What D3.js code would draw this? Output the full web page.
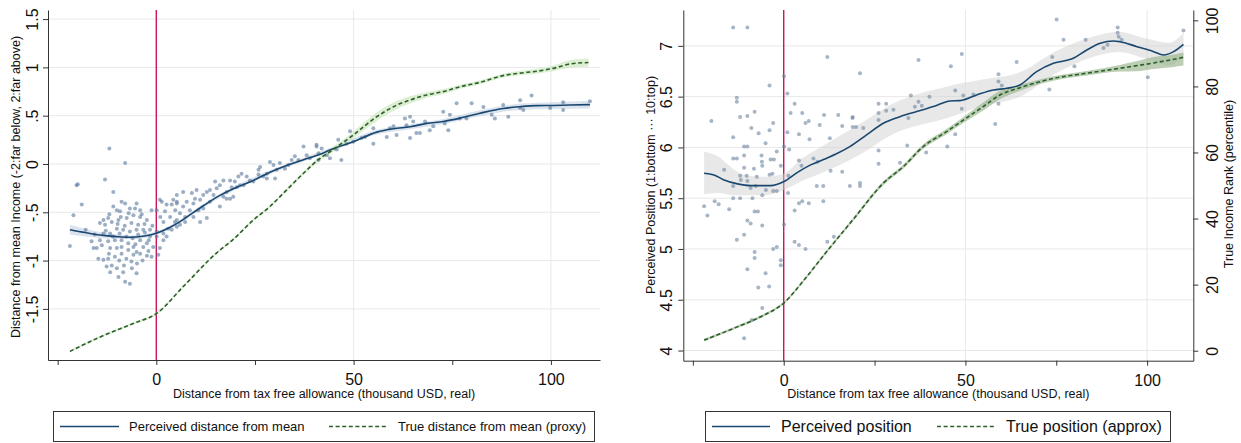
<!DOCTYPE html>
<html>
<head>
<meta charset="utf-8">
<script src="https://cdn.jsdelivr.net/npm/d3@7"></script>
<style>
body{margin:0;background:#fff}
</style>
</head>
<body>
<script>
// ---- data ----
let xTicks = [-25, 0, 25, 50, 75, 100]
let xGrid = [0, 50, 100]
let leftYTicks = [-1.5, -1, -0.5, 0, 0.5, 1, 1.5]
let rightYTicks = [4, 4.5, 5, 5.5, 6, 6.5, 7]
let rankTicks = [0, 20, 40, 60, 80, 100]

// left panel: perceived distance from mean (x, value)
let leftPerceived = [[-21.9,-0.68],[-18,-0.71],[-14.3,-0.735],[-10,-0.752],[-6.7,-0.759],[-3,-0.745],[0,-0.717],[3.5,-0.655],[6,-0.597],[7.7,-0.55],[12,-0.43],[16.1,-0.325],[20.4,-0.24],[24.6,-0.17],[28.8,-0.085],[33,-0.015],[37.3,0.045],[41.5,0.1],[44,0.145],[49.9,0.23],[55.9,0.33],[60.1,0.365],[64.3,0.385],[68.5,0.42],[72.7,0.44],[77,0.475],[82,0.525],[87.9,0.575],[92.2,0.593],[96.4,0.604],[100.6,0.606],[104.8,0.611],[109.9,0.615]]
let leftPerceivedBand = [[-21.9,-0.73,-0.63],[-18,-0.75,-0.67],[-14.3,-0.765,-0.705],[-10,-0.775,-0.73],[-6.7,-0.78,-0.74],[0,-0.735,-0.70],[6,-0.615,-0.58],[12,-0.45,-0.41],[20.4,-0.26,-0.22],[28.8,-0.105,-0.065],[37.3,0.025,0.065],[44,0.125,0.165],[55.9,0.305,0.355],[64.3,0.36,0.41],[72.7,0.415,0.465],[82,0.495,0.555],[92.2,0.56,0.625],[100.6,0.57,0.64],[109.9,0.575,0.655]]
// left panel: true distance from mean (proxy)
let leftTrue = [[-21.9,-1.94],[-14.2,-1.79],[-5.8,-1.65],[0,-1.55],[6.8,-1.27],[15.3,-0.92],[19.5,-0.78],[24.6,-0.58],[28.8,-0.44],[33,-0.27],[37.3,-0.096],[41.5,0.059],[44,0.127],[49.9,0.30],[55.9,0.49],[60.1,0.593],[64.3,0.663],[68.5,0.714],[72.7,0.749],[77,0.80],[82,0.845],[87.9,0.915],[92,0.94],[96.4,0.96],[100.6,0.99],[104.8,1.035],[109.5,1.05]]
let leftTrueBand = [[-21.9,-1.952,-1.928],[-14.2,-1.802,-1.778],[-5.8,-1.662,-1.638],[0,-1.562,-1.538],[6.8,-1.282,-1.258],[15.3,-0.932,-0.908],[19.5,-0.792,-0.768],[24.6,-0.592,-0.568],[28.8,-0.452,-0.428],[33,-0.285,-0.255],[37.3,-0.115,-0.077],[41.5,0.035,0.083],[44,0.1,0.154],[49.9,0.265,0.335],[55.9,0.445,0.535],[60.1,0.55,0.636],[64.3,0.625,0.7],[68.5,0.685,0.743],[72.7,0.725,0.773],[77,0.78,0.82],[82,0.825,0.865],[87.9,0.895,0.935],[92,0.918,0.962],[96.4,0.935,0.985],[100.6,0.96,1.02],[104.8,0.995,1.075],[109.5,1.008,1.092]]
let leftScatter = [
[-11.9,0.16],[-7.9,0.01],[-19.9,-0.21],[-13.0,-0.16],[-10.9,-0.29],[-18.9,-0.42],[-21.0,-0.53],[-17.9,-0.68],[-21.9,-0.85],[-15.9,-0.87],
[-8.8,-0.39],[-7.9,-0.41],[-5.0,-0.41],[-6.7,-0.46],[-5.4,-0.46],[-4.1,-0.48],[-10.0,-0.48],[-9.2,-0.49],[-10.9,-0.44],[-12.2,-0.56],
[-13.4,-0.58],[-14.3,-0.61],[-13.0,-0.63],[-11.3,-0.60],[-9.6,-0.58],[-7.5,-0.56],[-5.8,-0.53],[-4.1,-0.55],[-2.4,-0.58],[-1.2,-0.48],
[0.1,-0.48],[1.4,-0.39],[2.6,-0.42],[2.2,-0.49],[3.9,-0.42],[5.2,-0.39],[3.5,-0.55],[4.7,-0.60],[1.8,-0.60],[3.0,-0.67],
[1.8,-0.72],[0.1,-0.70],[-1.6,-0.68],[-3.3,-0.68],[-5.0,-0.68],[-6.7,-0.70],[-8.4,-0.68],[-10.0,-0.67],[-11.7,-0.72],[-13.4,-0.72],
[-14.3,-0.79],[-13.8,-0.84],[-12.2,-0.80],[-10.5,-0.79],[-8.8,-0.79],[-7.1,-0.82],[-5.8,-0.86],[-4.1,-0.79],[-2.4,-0.82],[-0.8,-0.86],
[0.9,-0.87],[1.8,-0.79],[0.5,-0.94],[-1.2,-0.96],[-2.4,-0.95],[-4.1,-0.93],[-5.8,-0.94],[-7.1,-0.89],[-8.8,-0.93],[-10.5,-0.96],
[-12.2,-0.98],[-13.4,-0.99],[-14.7,-0.98],[-11.3,-1.05],[-10.0,-1.08],[-8.4,-1.12],[-6.2,-1.08],[-5.0,-1.13],[-6.7,-1.24],[-7.9,-1.22],
[-9.6,-1.17],[-11.7,-1.12],[-12.6,-1.06],[-15.1,-0.87],[-11.7,-0.87],[-8.8,-0.86],[-10.0,-0.87],[-5.0,-0.91],[-3.3,-0.86],[-1.6,-0.75],
[0.1,-0.75],[2.6,-0.75],[3.9,-0.68],[5.2,-0.58],[5.2,-0.65],[-20.2,-0.22],[0.9,-0.37],
[-12.8,-0.69],[-11.0,-0.75],[-9.3,-0.72],[-7.6,-0.75],[-6.0,-0.77],[-4.6,-0.73],[-2.9,-0.71],[-1.0,-0.64],[-9.8,-0.62],[-8.0,-0.64],
[-6.3,-0.61],[-4.6,-0.63],[-3.0,-0.62],[-12.0,-0.93],[-9.4,-1.00],[-7.6,-0.98],[-6.3,-1.01],[-3.5,-1.00],[-2.0,-0.90],[-9.0,-0.55],
[-11.9,-0.52],[-3.7,-0.52],[-7.0,-0.51],[1.0,-0.55],[-15.6,-0.73],[-16.4,-0.80],[-4.9,-1.03],[-8.2,-1.05],[-1.9,-0.79],[-5.3,-0.83],
[4.3,-0.37],[5.2,-0.41],[4.8,-0.48],[6.0,-0.51],[6.8,-0.44],[7.7,-0.39],[7.3,-0.55],[8.5,-0.48],[9.4,-0.41],[9.8,-0.36],
[9.0,-0.30],[10.2,-0.27],[11.1,-0.37],[11.9,-0.32],[12.8,-0.29],[13.6,-0.27],[14.5,-0.32],[15.3,-0.25],[16.1,-0.22],[17.0,-0.17],
[14.9,-0.18],[17.8,-0.29],[18.7,-0.36],[19.1,-0.24],[19.9,-0.18],[20.8,-0.13],[21.6,-0.10],[22.1,-0.22],[22.9,-0.13],[23.7,-0.17],
[24.6,-0.18],[25.9,-0.06],[26.3,-0.03],[27.1,-0.13],[28.0,-0.10],[28.8,0.02],[29.7,-0.01],[30.5,-0.06],[31.3,0.01],[32.6,-0.05],
[33.5,-0.01],[34.3,0.04],[35.1,0.08],[36.0,0.04],[37.3,0.18],[38.1,0.09],[38.9,0.06],[40.6,0.20],[41.1,0.11],[6.0,-0.63],
[7.3,-0.60],[9.4,-0.55],[11.1,-0.60],[12.8,-0.56],[11.9,-0.46],[6.8,-0.29],[5.2,-0.32],[16.1,-0.44],[17.8,-0.36],[19.5,-0.34],
[20.4,-0.24],[28.0,-0.15],[30.1,-0.15],[25.9,-0.11],[18.7,-0.17],[21.2,-0.22],[17.0,-0.34],[13.6,-0.39],[10.7,-0.48],
[40.6,0.18],[41.9,0.16],[41.1,0.04],[43.2,0.09],[44.0,0.06],[45.7,0.15],[46.9,0.04],[46.1,0.25],[48.2,0.21],[49.1,0.34],
[49.9,0.23],[52.0,0.27],[52.9,0.28],[55.0,0.37],[55.0,0.21],[58.4,0.28],[59.2,0.37],[60.1,0.39],[60.9,0.30],[63.0,0.47],
[63.4,0.40],[64.3,0.49],[65.1,0.44],[65.9,0.32],[66.8,0.32],[68.1,0.44],[69.3,0.35],[70.2,0.39],[72.7,0.54],[73.1,0.42],
[74.0,0.35],[74.4,0.51],[76.1,0.63],[76.9,0.47],[78.6,0.47],[79.9,0.63],[64.3,0.27],
[82.9,0.59],[85.0,0.51],[85.8,0.47],[87.9,0.61],[89.2,0.49],[92.2,0.66],[92.2,0.58],[93.0,0.56],[95.1,0.71],[99.8,0.58],
[103.1,0.64],[103.1,0.56],[109.9,0.65]
]

// right panel: perceived position (1-10) and true rank (percentile)
let rightPerceived = [[-21.9,5.746],[-19.2,5.729],[-16.4,5.68],[-12.7,5.641],[-9.1,5.624],[-3.6,5.624],[0.1,5.664],[3.7,5.752],[7.4,5.828],[11.1,5.883],[14.8,5.942],[18.2,6.008],[22.8,6.123],[27.4,6.238],[32,6.303],[36.6,6.353],[41.2,6.402],[45.8,6.457],[48.5,6.461],[53.1,6.517],[57.7,6.566],[61.4,6.582],[65,6.615],[69.6,6.746],[74.2,6.828],[79.7,6.877],[83.4,6.959],[87.1,7.025],[90.7,7.048],[92.5,7.041],[97.2,6.992],[101.8,6.943],[104.5,6.91],[107.3,6.943],[110,7.015]]
let rightPerceivedBand = [[-21.9,5.54,5.96],[-18,5.55,5.91],[-14,5.53,5.79],[-10,5.53,5.72],[-5,5.53,5.71],[0,5.58,5.74],[5,5.67,5.89],[10,5.74,6.0],[20,5.91,6.21],[30,6.13,6.43],[45,6.29,6.6],[55,6.41,6.67],[65,6.50,6.74],[75,6.73,6.95],[85,6.89,7.09],[92,6.94,7.14],[100,6.87,7.07],[106,6.81,7.03],[110,6.89,7.13]]
let rightTrue = [[-21.9,3.2],[-13.7,6.8],[-6.3,10.3],[0.1,14.5],[5.6,21.4],[11.1,29],[19.4,40.1],[27.4,50.7],[32.9,55.7],[38.4,61.8],[44.8,66.3],[49.4,69.8],[54.9,73.9],[59.5,77.4],[65,79.6],[74.2,82.4],[83.4,84],[92.5,85.5],[101.8,87.1],[110,88.8]]
let rightTrueBand = [[-21.9,2.8,3.6],[-13.7,6.4,7.2],[-6.3,9.9,10.7],[0.1,14.1,14.9],[5.6,21,21.8],[11.1,28.6,29.4],[19.4,39.6,40.6],[27.4,50.1,51.3],[32.9,55.1,56.3],[38.4,61.1,62.5],[44.8,65.5,67.1],[49.4,68.9,70.7],[54.9,72.7,75.1],[59.5,76.1,78.7],[65,78.7,80.5],[74.2,81.7,83.1],[83.4,83.3,84.7],[92.5,84.5,86.5],[97,84.6,87.6],[101.8,85.3,88.9],[107,85.8,89.6],[110,86.3,90.3]]
let rightScatter = [
[-13.9,7.18],[-10.0,7.18],[12.0,6.89],[-3.9,6.61],[-12.9,6.49],[-12.9,6.45],[1.0,6.53],[3.0,6.43],[-19.9,6.26],[-8.0,6.35],
[-10.0,6.31],[-12.0,6.30],[1.9,6.34],[5.1,6.34],[11.1,6.32],[15.0,6.32],[18.9,6.29],[6.9,6.26],[6.0,6.24],[-2.9,6.24],
[-8.9,6.19],[-3.9,6.17],[-6.9,6.14],[-13.9,6.10],[1.0,6.15],[4.2,6.13],[7.1,6.08],[9.9,6.22],[12.7,6.09],[16.1,6.21],
[-5.0,6.04],[-10.9,6.01],[-10.0,6.01],[0.1,6.01],[1.5,5.98],[-1.9,5.96],[-6.1,5.92],[-10.9,5.92],[-12.9,5.89],[-13.9,5.89],
[-3.6,5.88],[-2.7,5.88],[-16.4,5.78],[-10.9,5.80],[-8.2,5.79],[-6.0,5.86],[-5.9,5.82],[4.2,5.87],[8.2,5.89],[4.9,5.82],
[9.3,5.86],[12.9,5.77],[16.1,5.76],[-12.0,5.72],[-10.2,5.72],[-7.4,5.71],[-3.1,5.74],[-0.8,5.82],[1.3,5.72],[-10.0,5.67],
[-11.8,5.68],[-13.9,5.62],[-9.1,5.60],[-7.7,5.62],[-4.9,5.58],[-2.9,5.57],[-1.9,5.57],[-3.9,5.73],[-13.9,5.50],[-12.0,5.50],
[-8.6,5.50],[-5.9,5.53],[1.2,5.55],[9.1,5.62],[10.9,5.62],[-21.9,5.42],[-19.0,5.47],[-17.9,5.44],[-21.0,5.33],[-15.0,5.39],
[-8.0,5.37],[-7.1,5.37],[5.1,5.47],[4.2,5.45],[3.0,5.38],[6.9,5.45],[10.9,5.47],[-10.0,5.28],[-9.1,5.25],[-5.9,5.23],
[-10.9,5.14],[-12.9,5.09],[0.1,5.24],[3.0,5.07],[4.2,5.04],[6.0,5.00],[-8.0,4.97],[-8.0,4.91],[-2.9,5.00],[-1.9,5.02],
[-0.8,4.89],[-0.8,4.84],[-10.0,4.80],[-5.0,4.76],[-7.0,4.62],[-4.0,4.63],[-5.9,4.42],[-8.8,4.30],[-10.9,4.12],[12.0,5.07],
[13.8,5.12],[0.1,6.70],
[21.0,6.73],[37.1,6.86],[46.0,6.80],[49.0,6.92],[64.1,6.84],[59.1,6.72],[59.1,6.65],[60.0,6.61],[59.1,6.43],[58.2,6.23],
[47.2,6.56],[49.0,6.38],[49.4,6.51],[52.2,6.52],[35.0,6.51],[37.1,6.45],[36.1,6.40],[38.0,6.41],[40.1,6.50],[30.2,6.37],
[28.2,6.43],[26.1,6.43],[28.2,6.36],[26.1,6.34],[26.1,6.27],[19.0,6.30],[19.0,6.20],[19.9,6.20],[21.9,6.19],[34.3,6.29],
[26.1,5.97],[26.1,5.84],[32.0,5.85],[34.0,6.02],[39.2,5.95],[45.0,6.01],[47.2,6.13],[21.0,5.65],[21.0,5.62],[18.2,5.62],
[75.1,7.26],[77.0,7.06],[73.9,6.89],[80.0,6.80],[83.1,7.06],[73.1,6.57],[88.0,6.98],[89.1,7.01],[91.9,7.18],[91.9,7.13],
[92.2,7.09],[93.0,7.06],[100.2,6.69],[110.0,7.15]
]

// ---- look ----
let font = "'Liberation Sans', Arial, sans-serif"
let axisCol = "#333"
let gridCol = "#e8e8e8"
let red = "#c8175d"
let navy = "#1a476f"
let green = "#2b5f2b"
let dash = "4,2.6"

let svg = d3.select("body").append("svg").attr("width", 1241).attr("height", 443).style("display", "block")

function fmtDot(d){ return String(d).replace("0.", ".") }

function styleAxis(g){
    g.select(".domain").attr("stroke", axisCol)
    g.selectAll(".tick line").attr("stroke", axisCol)
    g.selectAll(".tick text").attr("fill", "#111").style("font-size", "16px").style("font-family", font)
}

function drawPanel(p){
    let g = svg.append("g")
    let x = p.x, y = p.y, yc = p.yTrue
    let [x0, x1] = x.range(), [yb, yt] = y.range()

    // grid
    g.selectAll("line.hg").data(p.yTicks).enter().append("line")
        .attr("x1", x0).attr("x2", x1).attr("y1", d=>y(d)).attr("y2", d=>y(d))
        .attr("stroke", gridCol)
    g.selectAll("line.vg").data(xGrid).enter().append("line")
        .attr("y1", yt).attr("y2", yb).attr("x1", d=>x(d)).attr("x2", d=>x(d))
        .attr("stroke", gridCol)

    // threshold line
    g.append("line").attr("x1", x(0)).attr("x2", x(0)).attr("y1", yt).attr("y2", yb)
        .attr("stroke", red).attr("stroke-width", 1.4)

    // bands
    let band = (sc)=>d3.area().x(d=>x(d[0])).y0(d=>sc(d[1])).y1(d=>sc(d[2])).curve(d3.curveMonotoneX)
    g.append("path").attr("d", band(y)(p.perceivedBand)).attr("fill", p.pBandCol).attr("opacity", p.pBandOp)
    g.append("path").attr("d", band(yc)(p.trueBand)).attr("fill", p.tBandCol).attr("opacity", p.tBandOp)

    // scatter
    g.selectAll("circle").data(p.scatter).enter().append("circle")
        .attr("cx", d=>x(d[0])).attr("cy", d=>y(d[1])).attr("r", 2)
        .attr("fill", p.dotCol).attr("fill-opacity", 0.6)

    // curves
    let line = (sc)=>d3.line().x(d=>x(d[0])).y(d=>sc(d[1])).curve(d3.curveMonotoneX)
    g.append("path").attr("d", line(y)(p.perceived)).attr("fill", "none")
        .attr("stroke", navy).attr("stroke-width", 1.6)
    g.append("path").attr("d", line(yc)(p.trueLine)).attr("fill", "none")
        .attr("stroke", green).attr("stroke-width", 1.6).attr("stroke-dasharray", dash)

    // axes
    let ax = g.append("g").attr("transform", "translate(0," + yb + ")")
        .call(d3.axisBottom(x).tickValues(xTicks).tickSize(5).tickSizeOuter(0)
            .tickFormat(d=>xGrid.includes(d) ? d : ""))
    styleAxis(ax)
    ax.selectAll(".tick text").attr("y", 14)

    let ay = g.append("g").attr("transform", "translate(" + x0 + ",0)")
        .call(d3.axisLeft(y).tickValues(p.yTicks).tickSize(5).tickSizeOuter(0).tickFormat(fmtDot))
    styleAxis(ay)
    ay.selectAll(".tick text").attr("transform", "rotate(-90)").attr("x", 0).attr("y", p.labOff)
        .attr("dy", 0).attr("text-anchor", "middle")

    if (p.rightAxis) {
        let ar = g.append("g").attr("transform", "translate(" + x1 + ",0)")
            .call(d3.axisRight(yc).tickValues(rankTicks).tickSize(5).tickSizeOuter(0))
        styleAxis(ar)
        ar.selectAll(".tick text").attr("transform", "rotate(-90)").attr("x", 0).attr("y", 25)
            .attr("dy", 0).attr("text-anchor", "middle")
        g.append("text").attr("transform", "translate(1233,184) rotate(-90)")
            .attr("text-anchor", "middle").style("font-size", "12.5px").style("font-family", font)
            .attr("fill", "#111").text(p.rightTitle)
    }

    // titles
    g.append("text").attr("x", (x0 + x1) / 2).attr("y", 398).attr("text-anchor", "middle")
        .style("font-size", "12.5px").style("font-family", font).attr("fill", "#111")
        .text("Distance from tax free allowance (thousand USD, real)")
    g.append("text").attr("transform", "translate(" + p.yTitleX + "," + p.yTitleY + ") rotate(-90)")
        .attr("text-anchor", "middle").style("font-size", "12.5px").style("font-family", font)
        .attr("fill", "#111").text(p.yTitle)

    // legend
    let L = p.legend
    let lg = g.append("g")
    lg.append("rect").attr("x", L.x + 0.5).attr("y", 411.5).attr("width", L.w).attr("height", 30)
        .attr("fill", "#fff").attr("stroke", axisCol)
    lg.append("line").attr("x1", L.l1[0]).attr("x2", L.l1[1]).attr("y1", 426.5).attr("y2", 426.5)
        .attr("stroke", navy).attr("stroke-width", 1.6)
    lg.append("line").attr("x1", L.l2[0]).attr("x2", L.l2[1]).attr("y1", 426.5).attr("y2", 426.5)
        .attr("stroke", green).attr("stroke-width", 1.6).attr("stroke-dasharray", dash)
    lg.append("text").attr("x", L.t1).attr("y", L.base).style("font-size", L.size + "px")
        .style("font-family", font).attr("fill", "#111").text(L.labels[0])
    lg.append("text").attr("x", L.t2).attr("y", L.base).style("font-size", L.size + "px")
        .style("font-family", font).attr("fill", "#111").text(L.labels[1])
}

// left panel
let xL = d3.scaleLinear().domain([-27.45, 112.44]).range([48, 600])
let yL = d3.scaleLinear().domain([-2.029, 1.594]).range([360, 10])
drawPanel({
    x: xL, y: yL, yTrue: yL, yTicks: leftYTicks, labOff: -10,
    perceived: leftPerceived, perceivedBand: leftPerceivedBand,
    trueLine: leftTrue, trueBand: leftTrueBand, scatter: leftScatter,
    pBandCol: "#c3d1e2", pBandOp: 0.6, tBandCol: "#cfe8c0", tBandOp: 0.7, dotCol: "#58789c",
    yTitle: "Distance from mean Income (-2:far below, 2:far above)", yTitleX: 20, yTitleY: 187,
    legend: {x: 53, w: 541, l1: [60, 119], l2: [329, 388], t1: 129, t2: 398, base: 430.5, size: 13,
        labels: ["Perceived distance from mean", "True distance from mean (proxy)"]}
})

// right panel
let xR = d3.scaleLinear().domain([-27.63, 112.71]).range([683.3, 1193.3])
let yRL = d3.scaleLinear().domain([3.9, 7.353]).range([360.7, 10])
let yRR = d3.scaleLinear().domain([-3.03, 103.13]).range([360.7, 10])
drawPanel({
    x: xR, y: yRL, yTrue: yRR, yTicks: rightYTicks, labOff: -11, rightAxis: true,
    perceived: rightPerceived, perceivedBand: rightPerceivedBand,
    trueLine: rightTrue, trueBand: rightTrueBand, scatter: rightScatter,
    pBandCol: "#d2d2d2", pBandOp: 0.5, tBandCol: "#8fae80", tBandOp: 0.6, dotCol: "#6d849e",
    yTitle: "Perceived Position (1:bottom \u00b7\u00b7\u00b7 10:top)", yTitleX: 655, yTitleY: 185,
    rightTitle: "True Income Rank (percentile)",
    legend: {x: 705, w: 465, l1: [712, 770], l2: [937, 995], t1: 781, t2: 1006, base: 432, size: 16,
        labels: ["Perceived position", "True position (approx)"]}
})
</script>
</body>
</html>
